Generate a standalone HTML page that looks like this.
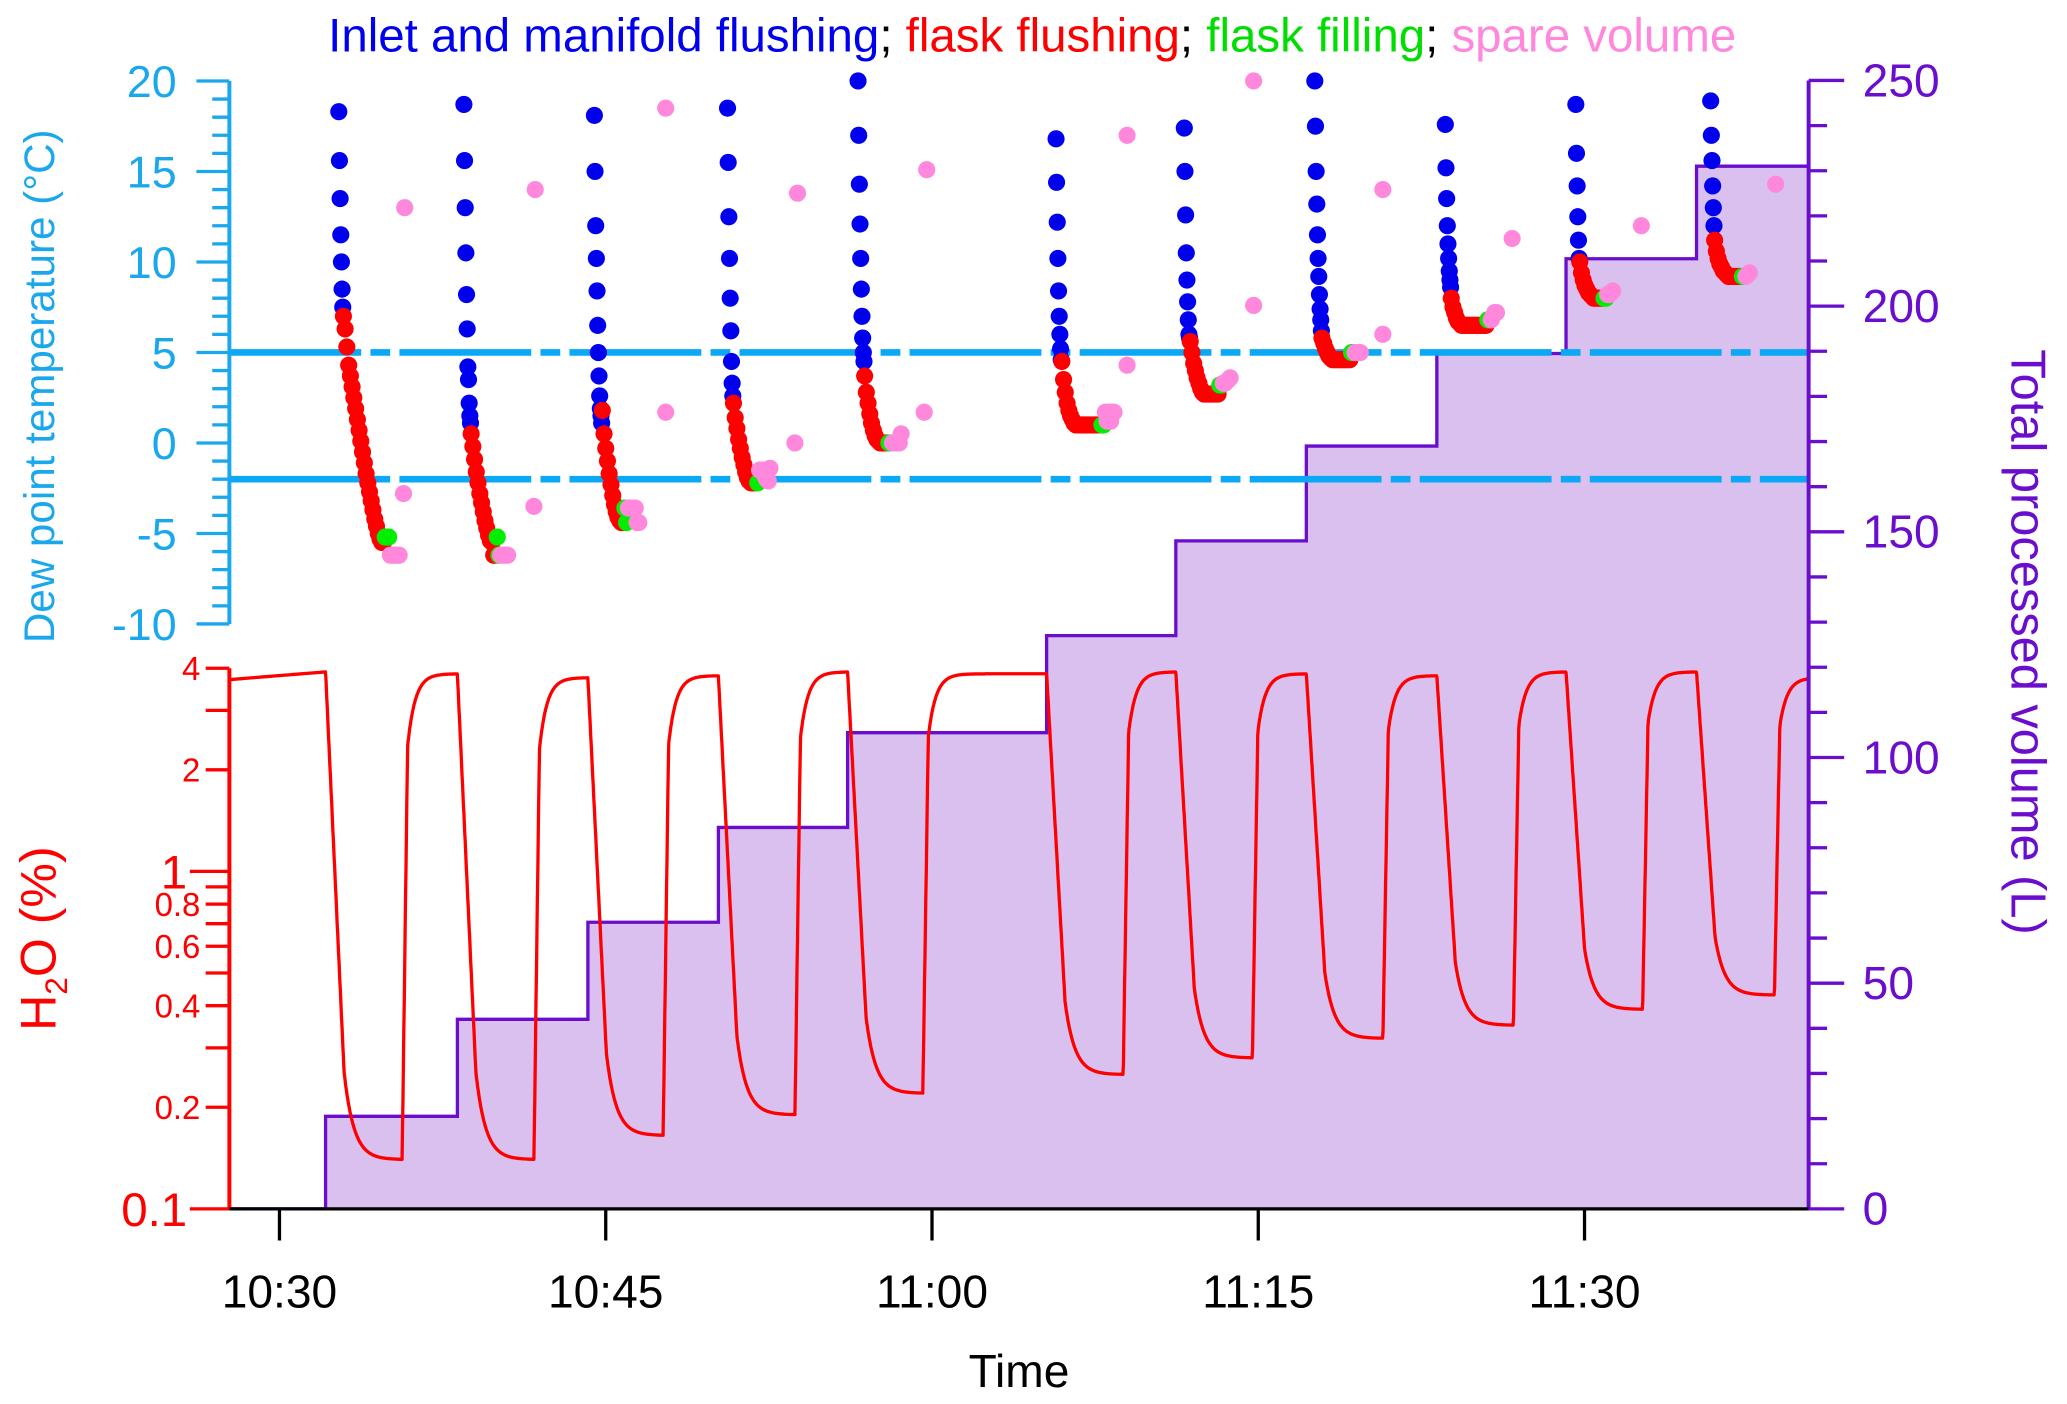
<!DOCTYPE html>
<html><head><meta charset="utf-8"><style>
html,body{margin:0;padding:0;background:#fff}
svg{display:block}
text{font-family:"Liberation Sans",Arial,sans-serif}
</style></head><body>
<svg id="chart" width="2067" height="1404" viewBox="0 0 1568 1065" xmlns="http://www.w3.org/2000/svg">
<g id="volume"></g>
<g id="h2o"></g>
<g id="dewlines"></g>
<g id="dots"></g>
<g id="axes"></g>
<text x="783" y="39" text-anchor="middle" font-size="36"><tspan fill="#0000ee">Inlet and manifold flushing</tspan><tspan fill="#000">; </tspan><tspan fill="#ff0000">flask flushing</tspan><tspan fill="#000">; </tspan><tspan fill="#00dd00">flask filling</tspan><tspan fill="#000">; </tspan><tspan fill="#ff88dd">spare volume</tspan></text>
<text transform="translate(41,293) rotate(-90)" text-anchor="middle" font-size="32" fill="#1aa7ec">Dew point temperature (°C)</text>
<text transform="translate(42,712) rotate(-90)" text-anchor="middle" font-size="38" fill="#ff0000">H<tspan font-size="24" dy="9">2</tspan><tspan dy="-9">O (%)</tspan></text>
<text transform="translate(1526,487) rotate(90)" text-anchor="middle" font-size="37" fill="#6a0dcc">Total processed volume  (L)</text>
<text x="773" y="1052" text-anchor="middle" font-size="35" fill="#000">Time</text>
</svg>
<script>
// ---- data ----
const timeTicks = [0, 15, 30, 45, 60];
const timeLabels = ["10:30", "10:45", "11:00", "11:15", "11:30"];
const dewTicks = [20, 15, 10, 5, 0, -5, -10];
const volTicks = [250, 200, 150, 100, 50, 0];
const h2oTicks = [4, 2, 1, 0.8, 0.6, 0.4, 0.2, 0.1];
const h2oMinorTicks = [3, 0.9, 0.7, 0.5, 0.3];
const dewLimits = [5, -2];
// volume steps: time (min after 10:30) and value (L)
const volStepTimes = [2.12, 8.18, 14.18, 20.18, 26.12, 35.27, 41.21, 47.21, 53.21, 59.15, 65.15];
const volStepValues = [20.5, 42, 63.5, 84.5, 105.5, 127, 148, 169, 189.5, 210.5, 231];
// H2O cycles
const h2oFall = [2.12, 8.18, 14.18, 20.18, 26.12, 35.27, 41.21, 47.21, 53.21, 59.15, 65.15];
const h2oRise = [5.64, 11.70, 17.64, 23.70, 29.58, 38.79, 44.73, 50.73, 56.73, 62.67, 68.73];
const h2oLow = [0.14, 0.14, 0.165, 0.19, 0.22, 0.25, 0.28, 0.32, 0.35, 0.39, 0.43];
const h2oHigh = [3.9, 3.85, 3.75, 3.8, 3.9, 3.85, 3.9, 3.85, 3.8, 3.9, 3.9];
// dew point cycles
const cycleStart = [2.73, 8.48, 14.48, 20.6, 26.6, 35.7, 41.6, 47.6, 53.6, 59.6, 65.8];
const blueVals = [
 [18.3,15.6,13.5,11.5,10,8.5,7.5],
 [18.7,15.6,13,10.5,8.2,6.3,4.2,3.5,2.2,1.5,1.1],
 [18.1,15,12,10.2,8.4,6.5,5,3.7,2.6,1.9,1.5,1.1],
 [18.5,15.5,12.5,10.2,8,6.2,4.5,3.3,2.6],
 [20,17,14.3,12.1,10.2,8.5,7,5.8,5,4.5],
 [16.8,14.4,12.2,10.2,8.4,7,6,5.2,4.6],
 [17.4,15,12.6,10.5,9,7.8,6.8,6,5.8],
 [20,17.5,15,13.2,11.5,10.2,9.2,8.2,7.4,6.8,6.2],
 [17.6,15.2,13.5,12,11,10.2,9.5,9,8.6],
 [18.7,16,14.2,12.5,11.2,10.2],
 [18.9,17,15.6,14.2,13,12]
];
const redVals = [
 [7,6.3,5.3,4.3,3.7,3.1,2.5,1.9,1.3,0.7,0.1,-0.5,-1.1,-1.7,-2.2,-2.7,-3.2,-3.7,-4.2,-4.6,-5,-5.3,-5.5,-5.5],
 [0.5,-0.2,-0.9,-1.6,-2.2,-2.8,-3.3,-3.8,-4.3,-4.7,-5.1,-5.4,-5.5,-6.2,-6.2],
 [1.8,0.5,-0.3,-1,-1.7,-2.3,-2.9,-3.4,-3.8,-4.1,-4.3,-4.4,-4.4],
 [2.2,1.4,0.8,0.2,-0.3,-0.8,-1.2,-1.6,-1.9,-2.1,-2.2,-2.2,-2.2,-2.2],
 [3.7,2.8,2.2,1.6,1.1,0.7,0.4,0.2,0.1,0,0,0,0,0],
 [4.5,3.5,2.8,2.2,1.8,1.5,1.3,1.1,1,1,1,1,1,1,1,1,1,1,1,1,1,1,1],
 [5.6,5,4.4,4,3.6,3.3,3,2.8,2.7,2.7,2.7,2.7,2.7,2.7,2.7,2.7,2.7],
 [5.8,5.5,5.2,5,4.8,4.7,4.6,4.6,4.6,4.6,4.6,4.6,4.6,4.6,4.6,4.6,4.6],
 [8,7.5,7.2,6.9,6.7,6.6,6.5,6.5,6.5,6.5,6.5,6.5,6.5,6.5,6.5,6.5,6.5,6.5,6.5,6.5,6.5],
 [10,9.4,9,8.7,8.5,8.3,8.2,8.1,8,8,8,8,8,8],
 [11.2,10.6,10.2,9.9,9.7,9.5,9.4,9.3,9.2,9.2,9.2,9.2,9.2,9.2,9.2,9.2]
];
const greenVals = [[-5.2,-5.2,-5.2],[-5.2,-6.2],[-3.6,-4.4],[-2.2],[0,0],[1,1],[3.2,3.2],[5,5],[6.8,6.8],[8,8],[9.2,9.2]];
const pinkVals = [
 [-6.2,-6.2,-6.2,-6.2,-6.2,-6.2],[-6.2,-6.2,-6.2,-6.2,-6.2],[-3.6,-3.6,-3.6,-3.6,-3.6,-4.4,-4.4],
 [-1.5,-1.5,-1.5,-1.8,-2.0,-2.1,-1.4],[0,0,0,0,0,0.5],[1.7,1.2,1.7,1.2,1.7,1.7],
 [3.3,3.3,3.4,3.5,3.6],[5,5,5,5],[6.8,7,7.2,7.2],[8.2,8.2,8.3,8.4],[9.2,9.3,9.4]
];
const pinkOutlierT = [5.76, 5.70, 11.76, 11.70, 17.76, 17.76, 23.82, 23.7, 29.76, 29.64, 38.97, 38.97, 44.79, 44.79, 50.73, 50.73, 56.67, 62.61, 68.79];
const pinkOutlierV = [13, -2.8, 14, -3.5, 18.5, 1.7, 13.8, 0, 15.1, 1.7, 17, 4.3, 20, 7.6, 14, 6, 11.3, 12, 14.3];

// ---- scales ----
const NS = "http://www.w3.org/2000/svg";
const X0 = 174, X1 = 1372;
const xT = m => 212 + m * 16.5;
const tMin = (X0 - 212) / 16.5, tMax = (X1 - 212) / 16.5;
const yDew = v => 336 - v * 13.73;
const yVol = v => 917 - v * 3.424;
const yH = v => 917 - Math.log10(v / 0.1) * 256;
function mk(tag, attrs, parent) {
  const e = document.createElementNS(NS, tag);
  for (const k in attrs) e.setAttribute(k, attrs[k]);
  parent.appendChild(e); return e;
}
const gVol = document.getElementById('volume'), gH = document.getElementById('h2o'),
      gL = document.getElementById('dewlines'), gD = document.getElementById('dots'),
      gA = document.getElementById('axes');

// volume step area
let d = `M${xT(tMin)},${yVol(0)} L${xT(volStepTimes[0])},${yVol(0)}`;
volStepTimes.forEach((t, i) => {
  const next = i + 1 < volStepTimes.length ? volStepTimes[i + 1] : tMax;
  d += ` L${xT(t)},${yVol(volStepValues[i])} L${xT(next)},${yVol(volStepValues[i])}`;
});
const va = mk('path', {d: d + ` L${xT(tMax)},${yVol(0)} Z`, fill: '#d9c0ef', stroke: 'none'}, gVol);


const vl = mk('path', {d: d, fill: 'none', stroke: '#6a0dcc', 'stroke-width': 2.5}, gVol);



// H2O line
const pts = [];
const lg = Math.log;
for (let t = tMin; t <= tMax; t += 0.02) {
  let v;
  let k = -1;
  for (let i = 0; i < h2oFall.length; i++) if (t >= h2oFall[i]) k = i;
  if (k < 0) { v = 3.7 + (h2oHigh[0] - 3.7) * (t - tMin) / (h2oFall[0] - tMin); }
  else if (t < h2oRise[k]) {
    const dt = Math.max(0, t - h2oFall[k]);
    const g = dt < 0.85 ? 1 - 0.82 * dt / 0.85 : 0.18 * Math.exp(-(dt - 0.85) / 0.45);
    v = Math.exp(lg(h2oLow[k]) + (lg(h2oHigh[k]) - lg(h2oLow[k])) * g);
  } else {
    const hi = k + 1 < h2oHigh.length ? h2oHigh[k + 1] : 3.75;
    const dt = t - h2oRise[k];
    const g = dt < 0.25 ? 0.85 * dt / 0.25 : 1 - 0.15 * Math.exp(-(dt - 0.25) / 0.35);
    v = Math.exp(lg(h2oLow[k]) + (lg(hi) - lg(h2oLow[k])) * g);
  }
  pts.push(`${xT(t).toFixed(1)},${yH(v).toFixed(1)}`);
}
const hl = mk('polyline', {points: pts.join(' '), fill: 'none', stroke: '#ff0000', 'stroke-width': 2.5, 'stroke-linejoin': 'round'}, gH);



// dew limit lines
dewLimits.forEach(v => {
  const l = mk('line', {x1: X0, x2: X1, y1: yDew(v), y2: yDew(v), stroke: '#0aa8f5', 'stroke-width': 5, 'stroke-dasharray': '100 7 15 7'}, gL);
  
  
});

// dew point dots
function dot(t, v, c, name) {
  const e = mk('circle', {cx: xT(t).toFixed(1), cy: yDew(v).toFixed(1), r: 6.5, fill: c}, gD);
  
  
}
cycleStart.forEach((t0, i) => {
  let t = t0;
  blueVals[i].forEach(v => { dot(t, v, '#0000ee', 'inlet-flushing-point'); t += 0.03; });
  redVals[i].forEach(v => { dot(t, v, '#ff0000', 'flask-flushing-point'); t += 0.08; });
  greenVals[i].forEach(v => { dot(t, v, '#00ee00', 'flask-filling-point'); t += 0.08; });
  pinkVals[i].forEach(v => { dot(t, v, '#ff88dd', 'spare-volume-point'); t += 0.08; });
});
pinkOutlierT.forEach((t, i) => dot(t, pinkOutlierV[i], '#ff88dd', 'spare-volume-point'));

// axes
function line(x1, y1, x2, y2, c, w, name) {
  const e = mk('line', {x1, y1, x2, y2, stroke: c, 'stroke-width': w}, gA);
  
  
}
function txt(x, y, s, c, size, anchor, name) {
  const e = mk('text', {x, y, fill: c, 'font-size': size, 'text-anchor': anchor}, gA);
  e.textContent = s;
  
  
}
// dew axis
const dc = '#1aa7ec';
line(X0, yDew(20), X0, yDew(-10), dc, 3, 'dew-axis-line');
for (let v = -10; v <= 20; v++) line(X0, yDew(v), X0 - (v % 5 === 0 ? 25 : 13), yDew(v), dc, 2.5, 'dew-tick');
dewTicks.forEach(v => txt(134, yDew(v) + 12, String(v), dc, 34, 'end', 'dew-tick-label'));
// h2o axis
const hc = '#ff0000';
line(X0, yH(4), X0, yH(0.1), hc, 3, 'h2o-axis-line');
h2oTicks.forEach(v => {
  const big = (v === 1 || v === 0.1);
  line(X0, yH(v), X0 - (big ? 30 : 18), yH(v), hc, 2.5, 'h2o-tick');
  txt(big ? 142 : 152, yH(v) + (big ? 13 : 9), String(v), hc, big ? 36 : 25, 'end', 'h2o-tick-label');
});
h2oMinorTicks.forEach(v => line(X0, yH(v), X0 - 18, yH(v), hc, 2.5, 'h2o-minor-tick'));
// volume axis
const pc = '#6a0dcc';
line(X1, yVol(250), X1, yVol(0), pc, 3, 'volume-axis-line');
for (let v = 0; v <= 250; v += 10) line(X1, yVol(v), X1 + (v % 50 === 0 ? 27 : 14), yVol(v), pc, 2.5, 'volume-tick');
volTicks.forEach(v => txt(1413, yVol(v) + 12, String(v), pc, 35, 'start', 'volume-tick-label'));
// time axis
line(X0, 917, X1, 917, '#000', 2.5, 'time-axis-line');
timeTicks.forEach((m, i) => {
  line(xT(m), 917, xT(m), 941, '#000', 2.5, 'time-tick');
  txt(xT(m), 992, timeLabels[i], '#000', 35, 'middle', 'time-tick-label');
});
</script>
</body></html>
